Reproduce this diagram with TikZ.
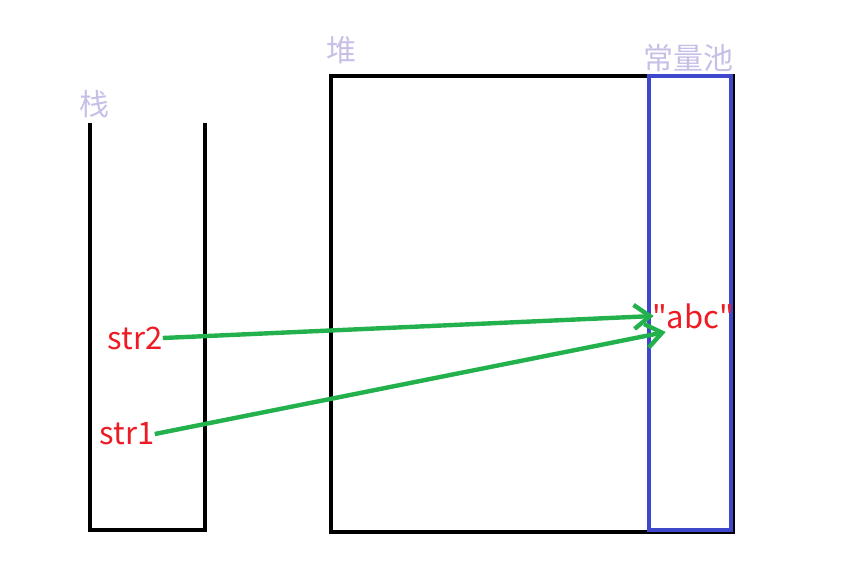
\documentclass[tikz,border=0pt]{standalone}
\usepackage{fontspec}
\newfontfamily\cjk{Noto Sans CJK SC}
\usetikzlibrary{arrows.meta, positioning}
\definecolor{lavender}{RGB}{200,191,231}
\definecolor{paintred}{RGB}{237,28,36}
\definecolor{paintgreen}{RGB}{34,177,76}
\definecolor{paintblue}{RGB}{63,72,204}

\begin{document}
\begin{tikzpicture}[x=0.5pt, y=-0.5pt,
    wall/.style={line width=2.2pt, black},
    pool/.style={line width=2.2pt, paintblue},
    area/.style={font=\cjk\fontsize{15}{17}\selectfont, text=lavender, inner sep=0pt},
    var/.style={font=\cjk\fontsize{15.5}{17}\selectfont, text=paintred, inner sep=0pt},
    ref/.style={line width=2.2pt, paintgreen, -{Straight Barb[length=8pt, width=12pt, line width=2.2pt]}}]

    \useasboundingbox (0,0) rectangle (866,569);

    % Stack
    \draw[wall] (90,123) -- (90,530) -- (205,530) -- (205,123);
    \node at (94,104) [area] (stack) {栈};

    % Heap and constant pool
    \draw[wall] (331,76) rectangle (733,532);
    \draw[pool] (649,76) rectangle (731,530);
    \node at (341,50) [area] (heap) {堆};
    \node at (688,58) [area] (pool) {常量池};

    % Values
    \node at (135,338) [var] (str2) {str2};
    \node at (127,434) [var] (str1) {str1};
    \node at (693,316) [var] (abc) {"abc"};

    \draw[ref] (str2.east) -- ([xshift=1pt] abc.west);
    \draw[ref] (str1.east) -- ([shift={(14,3)}] abc.south west);

\end{tikzpicture}
\end{document}
